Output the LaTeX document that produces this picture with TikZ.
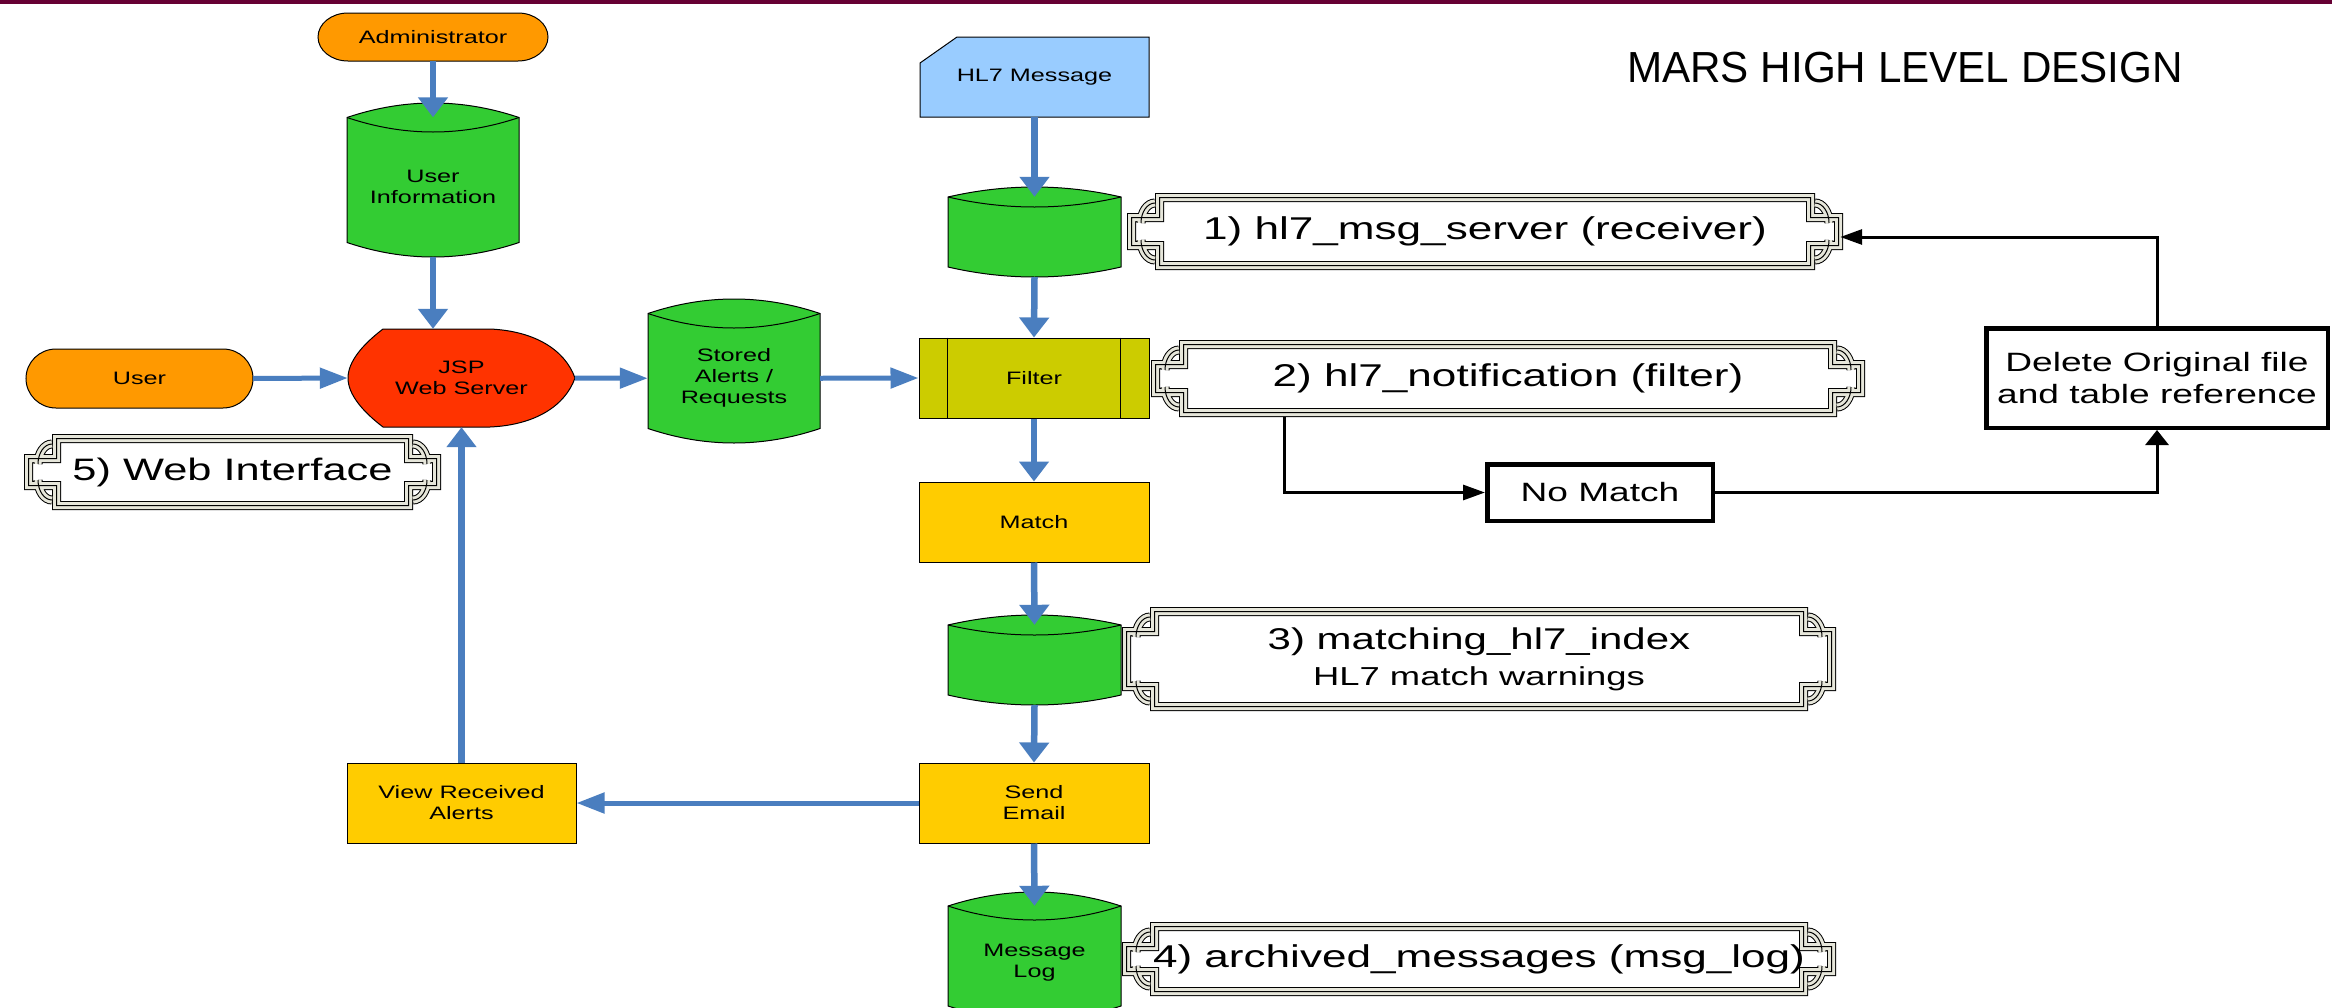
\documentclass[tikz,border=0pt]{standalone}
\usepackage{fontspec}
\setmainfont{Liberation Sans}[FakeStretch=1.4]
\newfontfamily\titlefont{Liberation Sans}[FakeStretch=0.97]
\usetikzlibrary{arrows.meta}

\definecolor{maroon}{HTML}{660033}
\definecolor{termfill}{HTML}{FF9900}
\definecolor{dbgreen}{HTML}{33CC33}
\definecolor{jspred}{HTML}{FF3300}
\definecolor{msgblue}{HTML}{99CCFF}
\definecolor{filterol}{HTML}{CCCC00}
\definecolor{procyel}{HTML}{FFCC00}
\definecolor{flowblue}{HTML}{4A7EBF}
\definecolor{bandcol}{HTML}{E6E6DA}

\tikzset{
 every node/.style={font=\fontsize{18}{21}\selectfont, inner sep=0pt},
 shapeline/.style={draw=black, line width=1pt},
 vflow/.style={draw=flowblue, line width=6.5pt, -{Triangle[length=20pt,width=29pt]}},
 hflow/.style={draw=flowblue, line width=5pt, -{Triangle[length=28pt,width=20pt]}},
 vblk/.style={draw=black, line width=3pt, -{Triangle[length=15pt,width=23pt]}},
 hblk/.style={draw=black, line width=3pt, -{Triangle[length=22pt,width=15pt]}},
 tripleline/.style={draw=black, line width=9pt,
   postaction={draw=bandcol, line width=7pt},
   postaction={draw=black, line width=1pt}},
 procbox/.style={shapeline, fill=procyel, minimum width=230pt, minimum height=80pt, align=center},
 thickbox/.style={draw=black, line width=4.5pt, fill=white, align=center,
   font=\fontsize{26.5}{32}\selectfont},
 frametext/.style={font=\fontsize{31.5}{36}\selectfont, align=center},
}

% terminal (stadium): name, L, T, R, B, text
\newcommand\termshape[6]{%
 \pgfmathsetmacro\tmCY{(#3+#5)/2}%
 \pgfmathsetmacro\tmRY{(#5-#3)/2*0.552}%
 \pgfmathsetmacro\tmLA{#2+30}\pgfmathsetmacro\tmLB{#2+13.4}%
 \pgfmathsetmacro\tmRA{#4-30}\pgfmathsetmacro\tmRB{#4-13.4}%
 \pgfmathsetmacro\tmUA{\tmCY-\tmRY}\pgfmathsetmacro\tmUB{\tmCY+\tmRY}%
 \pgfmathsetmacro\tmCX{(#2+#4)/2}%
 \pgfmathsetmacro\tmW{#4-#2}\pgfmathsetmacro\tmH{#5-#3}%
 \filldraw[shapeline, fill=termfill] (\tmLA,#3) -- (\tmRA,#3)
   .. controls (\tmRB,#3) and (#4,\tmUA) .. (#4,\tmCY)
   .. controls (#4,\tmUB) and (\tmRB,#5) .. (\tmRA,#5) -- (\tmLA,#5)
   .. controls (\tmLB,#5) and (#2,\tmUB) .. (#2,\tmCY)
   .. controls (#2,\tmUA) and (\tmLB,#3) .. (\tmLA,#3) -- cycle;
 \node[minimum width=\tmW pt, minimum height=\tmH pt] (#1) at (\tmCX,\tmCY) {#6};
}

% data cylinder: name, L, R, T(peak), B(bottom arc), a(arc depth), text
\newcommand\dbshape[7]{%
 \pgfmathsetmacro\dbA{#4+#6}%
 \pgfmathsetmacro\dbB{#5-#6}%
 \pgfmathsetmacro\dbU{#4+#6-4*#6/3}%
 \pgfmathsetmacro\dbI{#4+#6+4*#6/3}%
 \pgfmathsetmacro\dbV{#5-#6+4*#6/3}%
 \pgfmathsetmacro\dbL{#2+(#3-#2)/3}%
 \pgfmathsetmacro\dbR{#3-(#3-#2)/3}%
 \pgfmathsetmacro\dbCX{(#2+#3)/2}%
 \pgfmathsetmacro\dbCY{(\dbA+#5)/2}%
 \pgfmathsetmacro\dbW{#3-#2}\pgfmathsetmacro\dbH{#5-\dbA}%
 \filldraw[shapeline, fill=dbgreen] (#2,\dbA) .. controls (\dbL,\dbU) and (\dbR,\dbU) .. (#3,\dbA)
   -- (#3,\dbB) .. controls (\dbR,\dbV) and (\dbL,\dbV) .. (#2,\dbB) -- cycle;
 \draw[shapeline] (#2,\dbA) .. controls (\dbL,\dbI) and (\dbR,\dbI) .. (#3,\dbA);
 \node[minimum width=\dbW pt, minimum height=\dbH pt, align=center] (#1) at (\dbCX,\dbCY) {#7};
}

% decorative frame: name, L, T, R, B, text (L..R, T..B = bar rectangle)
\newcommand\hlframe[6]{%
 \pgfmathsetmacro\frA{#2+4.5}\pgfmathsetmacro\frB{#4-4.5}%
 \pgfmathsetmacro\frC{#3+4.5}\pgfmathsetmacro\frD{#5-4.5}%
 \pgfmathsetmacro\frE{#3+24.5}\pgfmathsetmacro\frF{#5-24.5}%
 \pgfmathsetmacro\frG{#2-23.5}\pgfmathsetmacro\frH{#4+23.5}%
 \pgfmathsetmacro\frP{#2-14}\pgfmathsetmacro\frQ{#2-7.7}%
 \pgfmathsetmacro\frS{#4+14}\pgfmathsetmacro\frT{#4+7.7}%
 \pgfmathsetmacro\frTa{#3+30}\pgfmathsetmacro\frTb{#3+19}\pgfmathsetmacro\frTc{#3+10}%
 \pgfmathsetmacro\frBa{#5-30}\pgfmathsetmacro\frBb{#5-19}\pgfmathsetmacro\frBc{#5-10}%
 \pgfmathsetmacro\frCX{(#2+#4)/2}\pgfmathsetmacro\frCY{(#3+#5)/2}%
 \pgfmathsetmacro\frW{#4-#2}\pgfmathsetmacro\frHt{#5-#3}%
 \fill[white] (\frA,\frC) -- (\frB,\frC) -- (\frB,\frE) -- (\frH,\frE) -- (\frH,\frF)
   -- (\frB,\frF) -- (\frB,\frD) -- (\frA,\frD) -- (\frA,\frF) -- (\frG,\frF)
   -- (\frG,\frE) -- (\frA,\frE) -- cycle;
 \path[tripleline] (\frA,\frC) -- (\frB,\frC) -- (\frB,\frE) -- (\frH,\frE) -- (\frH,\frF)
   -- (\frB,\frF) -- (\frB,\frD) -- (\frA,\frD) -- (\frA,\frF) -- (\frG,\frF)
   -- (\frG,\frE) -- (\frA,\frE) -- cycle
   (\frP,\frTa) .. controls (\frP,\frTb) and (\frQ,\frTc) .. (#2,\frTc)
   (\frP,\frBa) .. controls (\frP,\frBb) and (\frQ,\frBc) .. (#2,\frBc)
   (\frS,\frTa) .. controls (\frS,\frTb) and (\frT,\frTc) .. (#4,\frTc)
   (\frS,\frBa) .. controls (\frS,\frBb) and (\frT,\frBc) .. (#4,\frBc);
 \node[frametext, minimum width=\frW pt, minimum height=\frHt pt] (#1) at (\frCX,\frCY) {#6};
}

\begin{document}
\begin{tikzpicture}[x=1pt, y=-1pt]
\clip (0,0) rectangle (2332,1007);
\fill[white] (0,0) rectangle (2332,1007);
\fill[maroon] (0,0) rectangle (2332,3.5);

% title
\node[anchor=base west, font=\titlefont\fontsize{43.5}{50}\selectfont] (title) at (1627,82.5) {MARS HIGH LEVEL DESIGN};

% left column
\termshape{admin}{318}{13}{548}{61}{Administrator}
\dbshape{ui}{347}{519}{103}{257}{14.5}{User\\Information}
\termshape{user}{26}{349}{253}{408}{User}
\filldraw[shapeline, fill=jspred] (383,329) -- (490,329)
  .. controls (535,331) and (565,350) .. (575,378)
  .. controls (565,406) and (535,425) .. (490,427) -- (383,427)
  .. controls (362,411) and (348,394) .. (348,378)
  .. controls (348,362) and (362,345) .. (383,329) -- cycle;
\node[minimum width=227pt, minimum height=98pt, align=center] (jsp) at (461.5,378) {JSP\\Web Server};
\hlframe{fE}{52}{434}{413}{510}{\fontsize{31}{36}\selectfont 5) Web Interface}
\node[procbox, minimum width=229pt] (view) at (461.5,803) {View Received\\Alerts};

% middle
\dbshape{stored}{648}{820}{299}{443}{14.5}{Stored\\Alerts /\\Requests}
\filldraw[shapeline, fill=msgblue] (957,37) -- (1149,37) -- (1149,117) -- (920,117) -- (920,63) -- cycle;
\node[minimum width=229pt, minimum height=80pt] (hl7) at (1034.5,77) {HL7 Message};
\dbshape{cA}{948}{1121}{187}{277}{10}{}
\node[shapeline, fill=filterol, minimum width=230pt, minimum height=80pt] (filter) at (1034,378) {Filter};
\draw[shapeline] ([xshift=29pt]filter.north west) -- ([xshift=29pt]filter.south west);
\draw[shapeline] ([xshift=-29pt]filter.north east) -- ([xshift=-29pt]filter.south east);
\node[procbox] (match) at (1034,522) {Match};
\dbshape{cB}{948}{1121}{615}{705}{10}{}
\node[procbox] (send) at (1034,803) {Send\\Email};
\dbshape{mlog}{948}{1121}{892}{1020}{14}{Message\\Log}

% frames on the right
\hlframe{fA}{1155}{193}{1815}{270}{1) hl7\_msg\_server (receiver)}
\hlframe{fB}{1179}{340}{1837}{417}{2) hl7\_notification (filter)}
\hlframe{fC}{1150}{607}{1808}{711}{\fontsize{30}{33}\selectfont 3) matching\_hl7\_index\\{\fontsize{26}{33}\selectfont HL7 match warnings}}
\hlframe{fD}{1150}{922}{1808}{996}{4) archived\_messages (msg\_log)}

% thick boxes
\node[thickbox, minimum width=225.5pt, minimum height=56.5pt] (nm) at (1600,492.5) {No Match};
\node[thickbox, minimum width=341.5pt, minimum height=99.5pt] (del) at (2157,378) {Delete Original file\\and table reference};

% blue flow arrows
\draw[vflow] (admin.south) -- (ui.north);
\draw[vflow] (ui.south) -- (ui.south |- jsp.north);
\draw[hflow] (user.east) -- (jsp.west);
\draw[hflow] (jsp.east) -- (stored.west);
\draw[hflow] (stored.east) -- (filter.west);
\draw[vflow] (hl7.south) -- (cA.north);
\draw[vflow] (cA.south) -- (filter.north);
\draw[vflow] (filter.south) -- (match.north);
\draw[vflow] (match.south) -- (cB.north);
\draw[vflow] (cB.south) -- (send.north);
\draw[vflow] (send.south) -- (mlog.north);
\draw[hflow] (send.west) -- (view.east);
\draw[vflow] (view.north) -- (jsp.south);

% black connectors
\draw[hblk] ([xshift=106pt]fB.south west) |- (nm.west);
\draw[vblk] (nm.east) -| (del.south);
\draw[hblk] (del.north) |- ([xshift=25pt,yshift=-5.5pt]fA.east);
\end{tikzpicture}
\end{document}
